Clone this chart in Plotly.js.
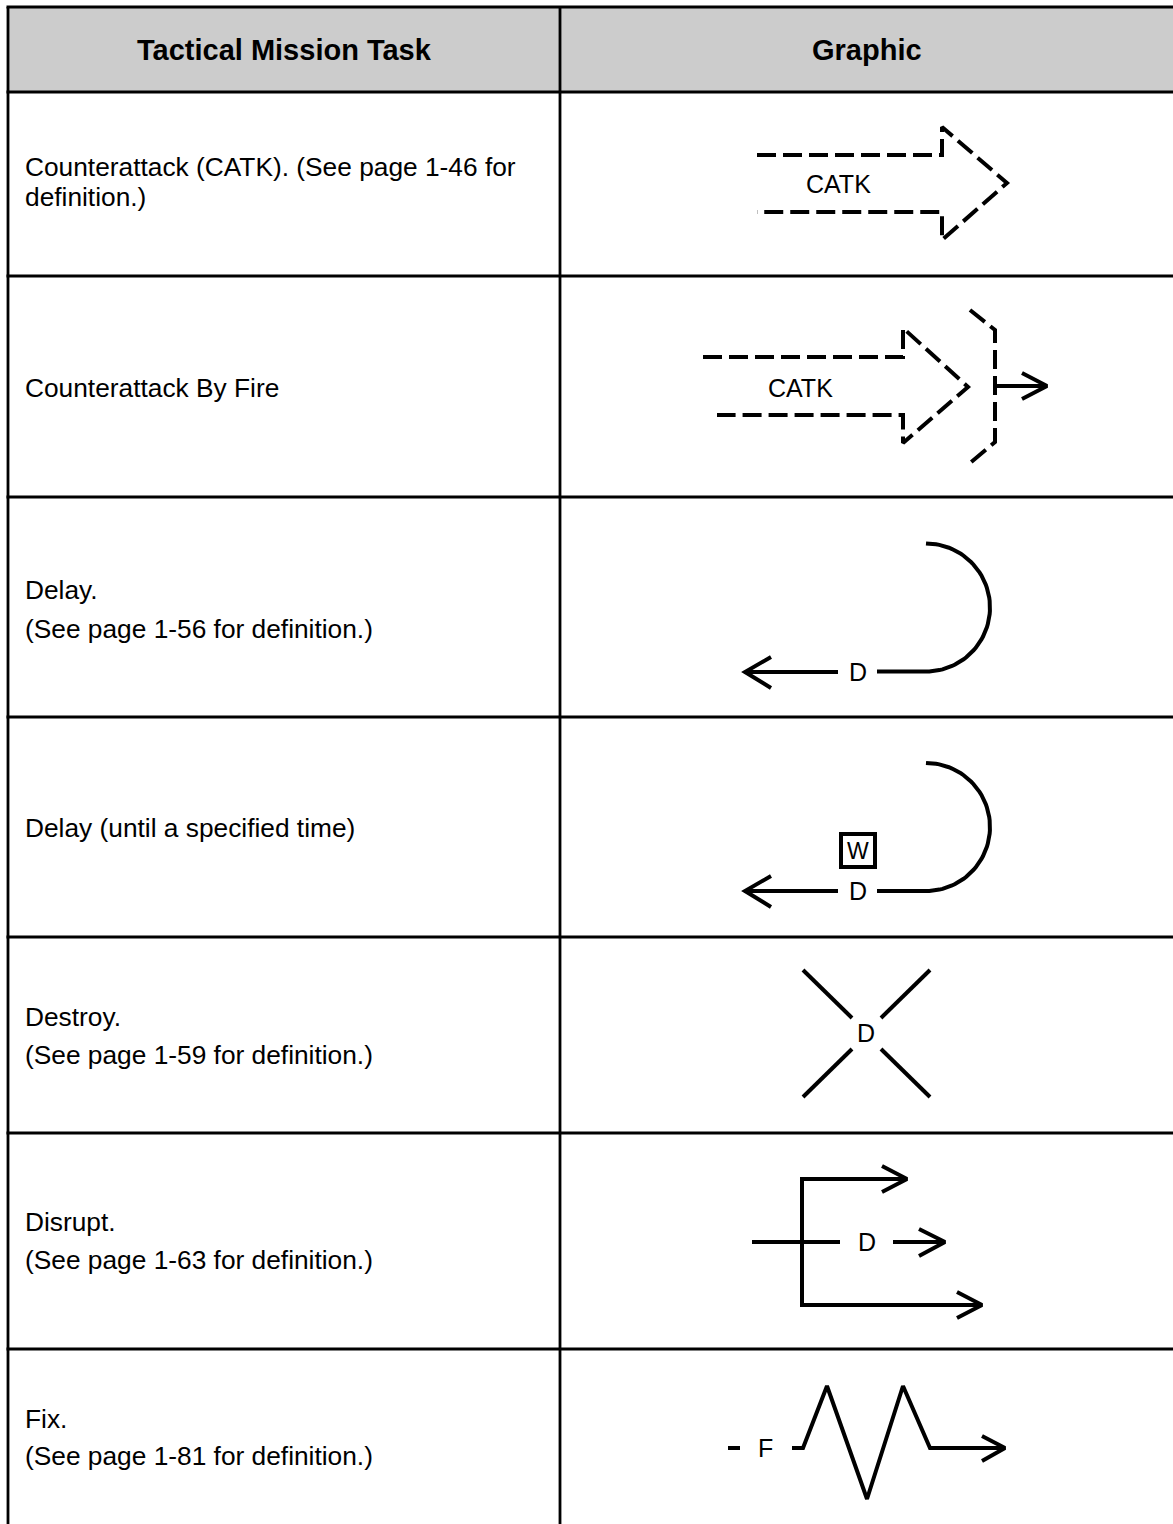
<!DOCTYPE html>
<html>
<head>
<meta charset="utf-8">
<script src="https://cdn.plot.ly/plotly-3.0.1.min.js"></script>
<style>
  html, body { margin: 0; padding: 0; background: #ffffff; }
  #chart { width: 1173px; height: 1524px; }
</style>
</head>
<body>
<div id="chart"></div>
<script>
// ---------- table content ----------
const headers = ["Tactical Mission Task", "Graphic"];
const taskLines = [
  ["Counterattack (CATK). (See page 1-46 for", "definition.)"],
  ["Counterattack By Fire"],
  ["Delay.", "(See page 1-56 for definition.)"],
  ["Delay (until a specified time)"],
  ["Destroy.", "(See page 1-59 for definition.)"],
  ["Disrupt.", "(See page 1-63 for definition.)"],
  ["Fix.", "(See page 1-81 for definition.)"]
];
const symbolLabels = ["CATK", "CATK", "D", "D", "W", "D", "D", "F"];

// ---------- layout geometry (page pixels) ----------
const rowEdges = [7, 92, 276, 497, 717, 937, 1133, 1349];
const colEdges = [8, 560, 1173];
const pageBottom = 1524;
const taskTextX = 23;
const taskLineY = [[167, 197], [388], [590, 629], [828], [1017, 1055], [1222, 1260], [1419, 1456]];
const labelPos = [[838, 184], [800, 388], [858, 672], [858, 891], [858, 851], [866, 1033], [867, 1242], [765, 1448]];

// ---------- symbol geometry (page pixels) ----------
const dashedPaths = [
  [[757,155],[942,155],[942,127],[1007,183],[942,240],[942,212],[757,212]],
  [[703,357],[903,357],[903,328],[968,387],[903,443],[903,415],[717,415]],
  [[970,310],[995,330],[995,442],[970,463]]
];
const solidPaths = [
  // counterattack by fire arrow
  [[995,386],[1046,386]], [[1022,373],[1047,386],[1022,399]],
  // delay
  [[838,672],[746,672]], [[771,657],[745,672],[771,688]],
  // delay until
  [[838,891],[746,891]], [[771,876],[745,891],[771,907]],
  // destroy
  [[803,970],[852,1018]], [[930,970],[881,1018]], [[803,1097],[852,1049]], [[930,1097],[881,1049]],
  // disrupt
  [[905,1179],[802,1179],[802,1305],[980,1305]], [[882,1166],[907,1179],[882,1192]], [[957,1292],[982,1305],[957,1318]],
  [[752,1242],[840,1242]], [[893,1242],[943,1242]], [[919,1229],[945,1242],[919,1256]],
  // fix
  [[728,1448],[740,1448]],
  [[792,1448],[803,1448],[827,1386],[867,1499],[903,1386],[930,1448],[1003,1448]], [[982,1436],[1005,1448],[982,1461]]
];
// delay arcs: [centerX, centerY, radius, tailStartX]
const delayArcs = [[926, 607.5, 64, 877], [926, 827, 64, 877]];
const wBox = [841, 834, 875, 867];

// ---------- build figure ----------
const FONT = "Liberation Sans, Arial, Helvetica, sans-serif";
const traces = [];
function pathTrace(pts, dash) {
  return {
    x: pts.map(p => p[0]), y: pts.map(p => p[1]),
    mode: "lines", type: "scatter", hoverinfo: "skip",
    line: { color: "#000000", width: 4, dash: dash || "solid" }
  };
}
dashedPaths.forEach(p => traces.push(pathTrace(p, "19px,7px")));
solidPaths.forEach(p => traces.push(pathTrace(p)));
delayArcs.forEach(a => {
  const [cx, cy, r, tx] = a;
  const pts = [];
  for (let i = 0; i <= 60; i++) {
    const t = -Math.PI / 2 + Math.PI * i / 60;
    pts.push([cx + r * Math.cos(t), cy + r * Math.sin(t)]);
  }
  pts.push([tx, cy + r]);
  traces.push(pathTrace(pts));
});

const shapes = [];
// header background
shapes.push({ type: "rect", xref: "x", yref: "y", x0: colEdges[0], x1: colEdges[2], y0: rowEdges[0], y1: rowEdges[1],
  fillcolor: "#cccccc", line: { width: 0 }, layer: "below" });
// horizontal rules
rowEdges.forEach(y => shapes.push({ type: "line", xref: "x", yref: "y", x0: colEdges[0] - 1.5, x1: colEdges[2], y0: y, y1: y,
  line: { color: "#000000", width: 2.8 } }));
// vertical rules
[colEdges[0], colEdges[1]].forEach(x => shapes.push({ type: "line", xref: "x", yref: "y", x0: x, x1: x, y0: rowEdges[0], y1: pageBottom,
  line: { color: "#000000", width: 2.8 } }));
// W box
shapes.push({ type: "rect", xref: "x", yref: "y", x0: wBox[0], y0: wBox[1], x1: wBox[2], y1: wBox[3],
  fillcolor: "rgba(0,0,0,0)", line: { color: "#000000", width: 4 } });

const annotations = [];
headers.forEach((h, i) => annotations.push({
  x: (colEdges[i] + colEdges[i + 1]) / 2, y: (rowEdges[0] + rowEdges[1]) / 2, xref: "x", yref: "y",
  text: "<b>" + h + "</b>", showarrow: false, xanchor: "center", yanchor: "middle",
  font: { family: FONT, size: 29, color: "#000000" }
}));
taskLines.forEach((lines, r) => lines.forEach((t, k) => annotations.push({
  x: taskTextX, y: taskLineY[r][k], xref: "x", yref: "y", text: t, showarrow: false,
  xanchor: "left", yanchor: "middle", font: { family: FONT, size: 26.3, color: "#000000" }
})));
symbolLabels.forEach((t, i) => annotations.push({
  x: labelPos[i][0], y: labelPos[i][1], xref: "x", yref: "y", text: t, showarrow: false,
  xanchor: "center", yanchor: "middle", font: { family: FONT, size: t === "W" ? 23 : 25, color: "#000000" }
}));

const layout = {
  width: 1173, height: 1524,
  margin: { l: 0, r: 0, t: 0, b: 0, pad: 0 },
  paper_bgcolor: "#ffffff", plot_bgcolor: "#ffffff",
  showlegend: false,
  xaxis: { range: [0, 1173], visible: false, fixedrange: true },
  yaxis: { range: [1524, 0], visible: false, fixedrange: true },
  shapes: shapes, annotations: annotations
};
Plotly.newPlot("chart", traces, layout, { staticPlot: true, displayModeBar: false });
</script>
</body>
</html>
